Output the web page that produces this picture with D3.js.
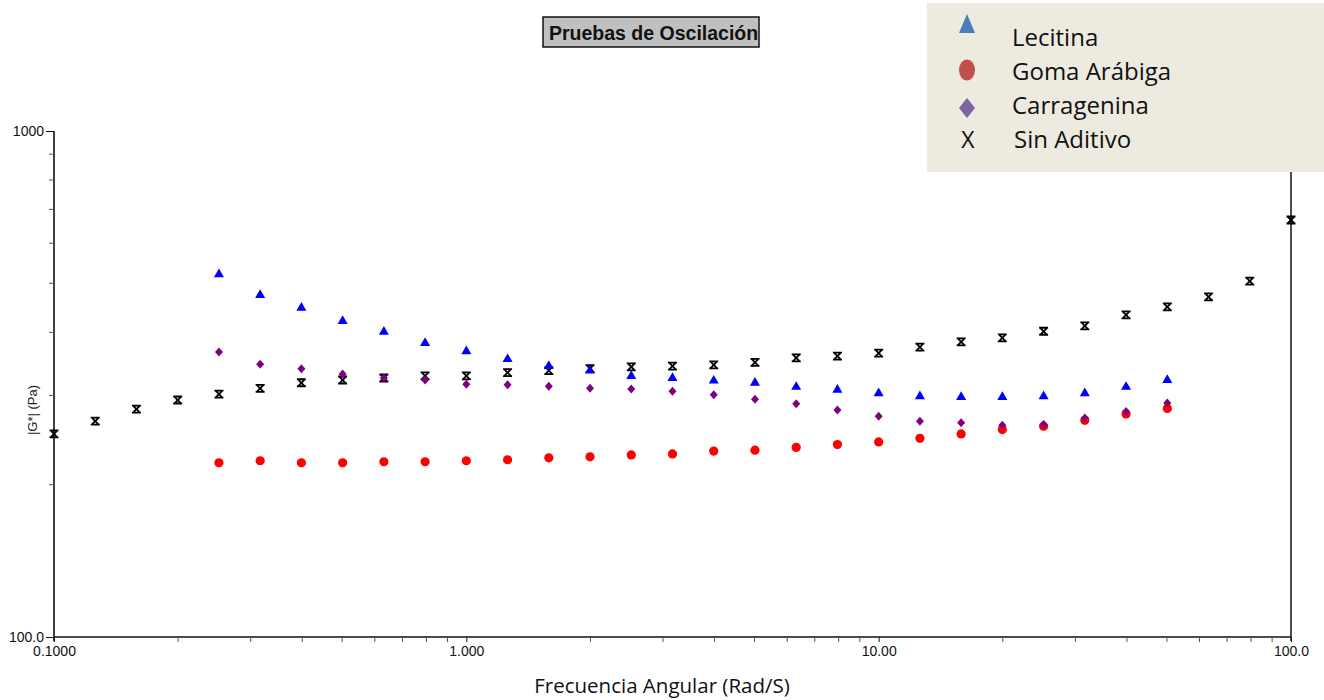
<!DOCTYPE html>
<html>
<head>
<meta charset="utf-8">
<script src="https://cdn.jsdelivr.net/npm/d3@7"></script>
<style>
  body { margin: 0; background: #fff; }
  svg { display: block; }
</style>
</head>
<body>
<svg id="chart" width="1324" height="700"></svg>
<script>
// frequencies (rad/s)
const freqAll = [0.1, 0.1259, 0.1585, 0.1995, 0.2512, 0.3162, 0.3981, 0.5012, 0.631, 0.7943,
  1.0, 1.259, 1.585, 1.995, 2.512, 3.162, 3.981, 5.012, 6.31, 7.943,
  10, 12.59, 15.85, 19.95, 25.12, 31.62, 39.81, 50.12, 63.1, 79.43, 100];
const freqAdd = [0.2512, 0.3162, 0.3981, 0.5012, 0.631, 0.7943,
  1.0, 1.259, 1.585, 1.995, 2.512, 3.162, 3.981, 5.012, 6.31, 7.943,
  10, 12.59, 15.85, 19.95, 25.12, 31.62, 39.81, 50.12];

// |G*| (Pa)
const lecitina = [521, 474, 447, 421, 401, 381, 367, 354, 343, 336, 328, 325,
  321, 318, 312, 308, 303, 299, 298, 298, 299, 303, 312, 322];
const gomaArabiga = [221, 223, 221, 221, 222, 222, 223, 224, 226, 227, 229, 230,
  233, 234, 237, 240, 243, 247, 252, 257, 261, 268, 276, 283];
const carragenina = [366, 346, 339, 331, 325, 322, 316, 315, 313, 310, 309, 306,
  301, 295, 289, 281, 273, 267, 265, 262, 263, 271, 279, 290];
const sinAditivo = [252, 267, 282, 294, 302, 310, 318, 322, 325, 328, 328, 333,
  336, 339, 342, 343, 345, 349, 356, 359, 364, 374, 383, 390, 402, 412, 433, 449, 470, 505, 667];

const xTickVals = [0.1, 1, 10, 100];
const xTickLabels = ['0.1000', '1.000', '10.00', '100.0'];
const yTickVals = [100, 1000];
const yTickLabels = ['100.0', '1000'];

const legendNames = ['Lecitina', 'Goma Arábiga', 'Carragenina', 'Sin Aditivo'];

const plotL = 54, plotR = 1291, plotT = 131, plotB = 637;

const svg = d3.select('#chart');

const x = d3.scaleLog().domain([0.1, 100]).range([plotL, plotR]);
const y = d3.scaleLog().domain([100, 1000]).range([plotB, plotT]);

const minorX = [];
[0.1, 1, 10].forEach(d => { for (let k = 2; k <= 9; k++) minorX.push(d * k); });
const minorY = [];
for (let k = 2; k <= 9; k++) minorY.push(100 * k);

// x axis
const xAxis = svg.append('g')
  .attr('transform', `translate(0,${plotB})`)
  .call(d3.axisBottom(x).tickValues(xTickVals).tickSize(5).tickPadding(4)
    .tickFormat((d, i) => xTickLabels[i]));
xAxis.append('g').selectAll('line')
  .data(minorX).enter().append('line')
  .attr('x1', d => x(d)).attr('x2', d => x(d))
  .attr('y1', 0).attr('y2', 5)
  .attr('stroke', '#555');

// y axis
const yAxis = svg.append('g')
  .attr('transform', `translate(${plotL},0)`)
  .call(d3.axisLeft(y).tickValues(yTickVals).tickSize(8).tickPadding(2)
    .tickFormat((d, i) => yTickLabels[i]));
yAxis.append('g').selectAll('line')
  .data(minorY).enter().append('line')
  .attr('x1', 0).attr('x2', -5)
  .attr('y1', d => y(d)).attr('y2', d => y(d))
  .attr('stroke', '#555');

[xAxis, yAxis].forEach(g => {
  g.select('.domain').attr('stroke', '#111').attr('stroke-width', 1.6);
  g.selectAll('.tick line').attr('stroke', '#111');
  g.selectAll('text').attr('font-family', 'Liberation Sans, Arial, sans-serif')
    .attr('font-size', 14).attr('fill', '#111');
});
xAxis.select('.domain').attr('d', `M${plotL},0H${plotR}`);
yAxis.select('.domain').attr('d', `M0,${plotT}V${plotB + 4}`);

// right border
svg.append('line')
  .attr('x1', plotR).attr('x2', plotR).attr('y1', plotT).attr('y2', plotB + 4)
  .attr('stroke', '#222').attr('stroke-width', 1.6);

// axis titles
svg.append('text')
  .attr('x', 662).attr('y', 693)
  .attr('text-anchor', 'middle')
  .attr('font-family', 'Open Sans, sans-serif')
  .attr('font-size', 20.5)
  .attr('fill', '#111')
  .text('Frecuencia Angular (Rad/S)');

svg.append('text')
  .attr('transform', 'translate(37,410) rotate(-90)')
  .attr('text-anchor', 'middle')
  .attr('font-family', 'Liberation Sans, Arial, sans-serif')
  .attr('font-size', 13)
  .attr('fill', '#222')
  .text('|G*| (Pa)');

// title box
svg.append('rect')
  .attr('x', 543).attr('y', 17).attr('width', 216).attr('height', 30)
  .attr('fill', '#c0c0c0').attr('stroke', '#111').attr('stroke-width', 1.5);
svg.append('text')
  .attr('x', 549).attr('y', 40)
  .attr('font-family', 'Liberation Sans, Arial, sans-serif')
  .attr('font-weight', 'bold')
  .attr('font-size', 19.5)
  .attr('fill', '#111')
  .text('Pruebas de Oscilación');

// markers
const pts = svg.append('g');

const triangle = d3.symbol().type(d3.symbolTriangle).size(44);

pts.selectAll('.goma').data(freqAdd).enter().append('circle')
  .attr('cx', d => x(d)).attr('cy', (d, i) => y(gomaArabiga[i]))
  .attr('r', 4.6).attr('fill', '#ff0000');

pts.selectAll('.sin').data(freqAll).enter().append('path')
  .attr('transform', (d, i) => `translate(${x(d)},${y(sinAditivo[i])})`)
  .attr('d', 'M-4.5,-3.5H4.5M-4.5,3.5H4.5M-3,-3L3,3M3,-3L-3,3')
  .attr('stroke', '#000').attr('stroke-width', 1.8).attr('fill', 'none');

pts.selectAll('.carr').data(freqAdd).enter().append('path')
  .attr('transform', (d, i) => `translate(${x(d)},${y(carragenina[i])})`)
  .attr('d', 'M0,-4.5L4,0L0,4.5L-4,0Z').attr('fill', '#800080');

pts.selectAll('.lec').data(freqAdd).enter().append('path')
  .attr('transform', (d, i) => `translate(${x(d)},${y(lecitina[i])})`)
  .attr('d', triangle).attr('fill', '#0000ff');

// legend
const lg = svg.append('g');
lg.append('rect')
  .attr('x', 927).attr('y', 3).attr('width', 397).attr('height', 169)
  .attr('fill', '#edeae0');

const lgBase = [46, 80, 114, 148];
lg.selectAll('text.name').data(legendNames).enter().append('text')
  .attr('class', 'name')
  .attr('x', (d, i) => i === 3 ? 1014 : 1012)
  .attr('y', (d, i) => lgBase[i])
  .attr('font-family', 'Open Sans, sans-serif')
  .attr('font-size', 24)
  .attr('fill', '#111')
  .text(d => d);

lg.append('path')
  .attr('d', 'M967,14L975,33H959Z')
  .attr('fill', '#4a7ebb');
lg.append('ellipse')
  .attr('cx', 967).attr('cy', 70).attr('rx', 8).attr('ry', 10.5)
  .attr('fill', '#c0504d');
lg.append('path')
  .attr('d', 'M967,98L975,108L967,118L959,108Z')
  .attr('fill', '#8064a2');
lg.append('text')
  .attr('x', 968).attr('y', 148)
  .attr('text-anchor', 'middle')
  .attr('font-family', 'Open Sans, sans-serif')
  .attr('font-size', 23)
  .attr('fill', '#111')
  .text('X');
</script>
</body>
</html>
